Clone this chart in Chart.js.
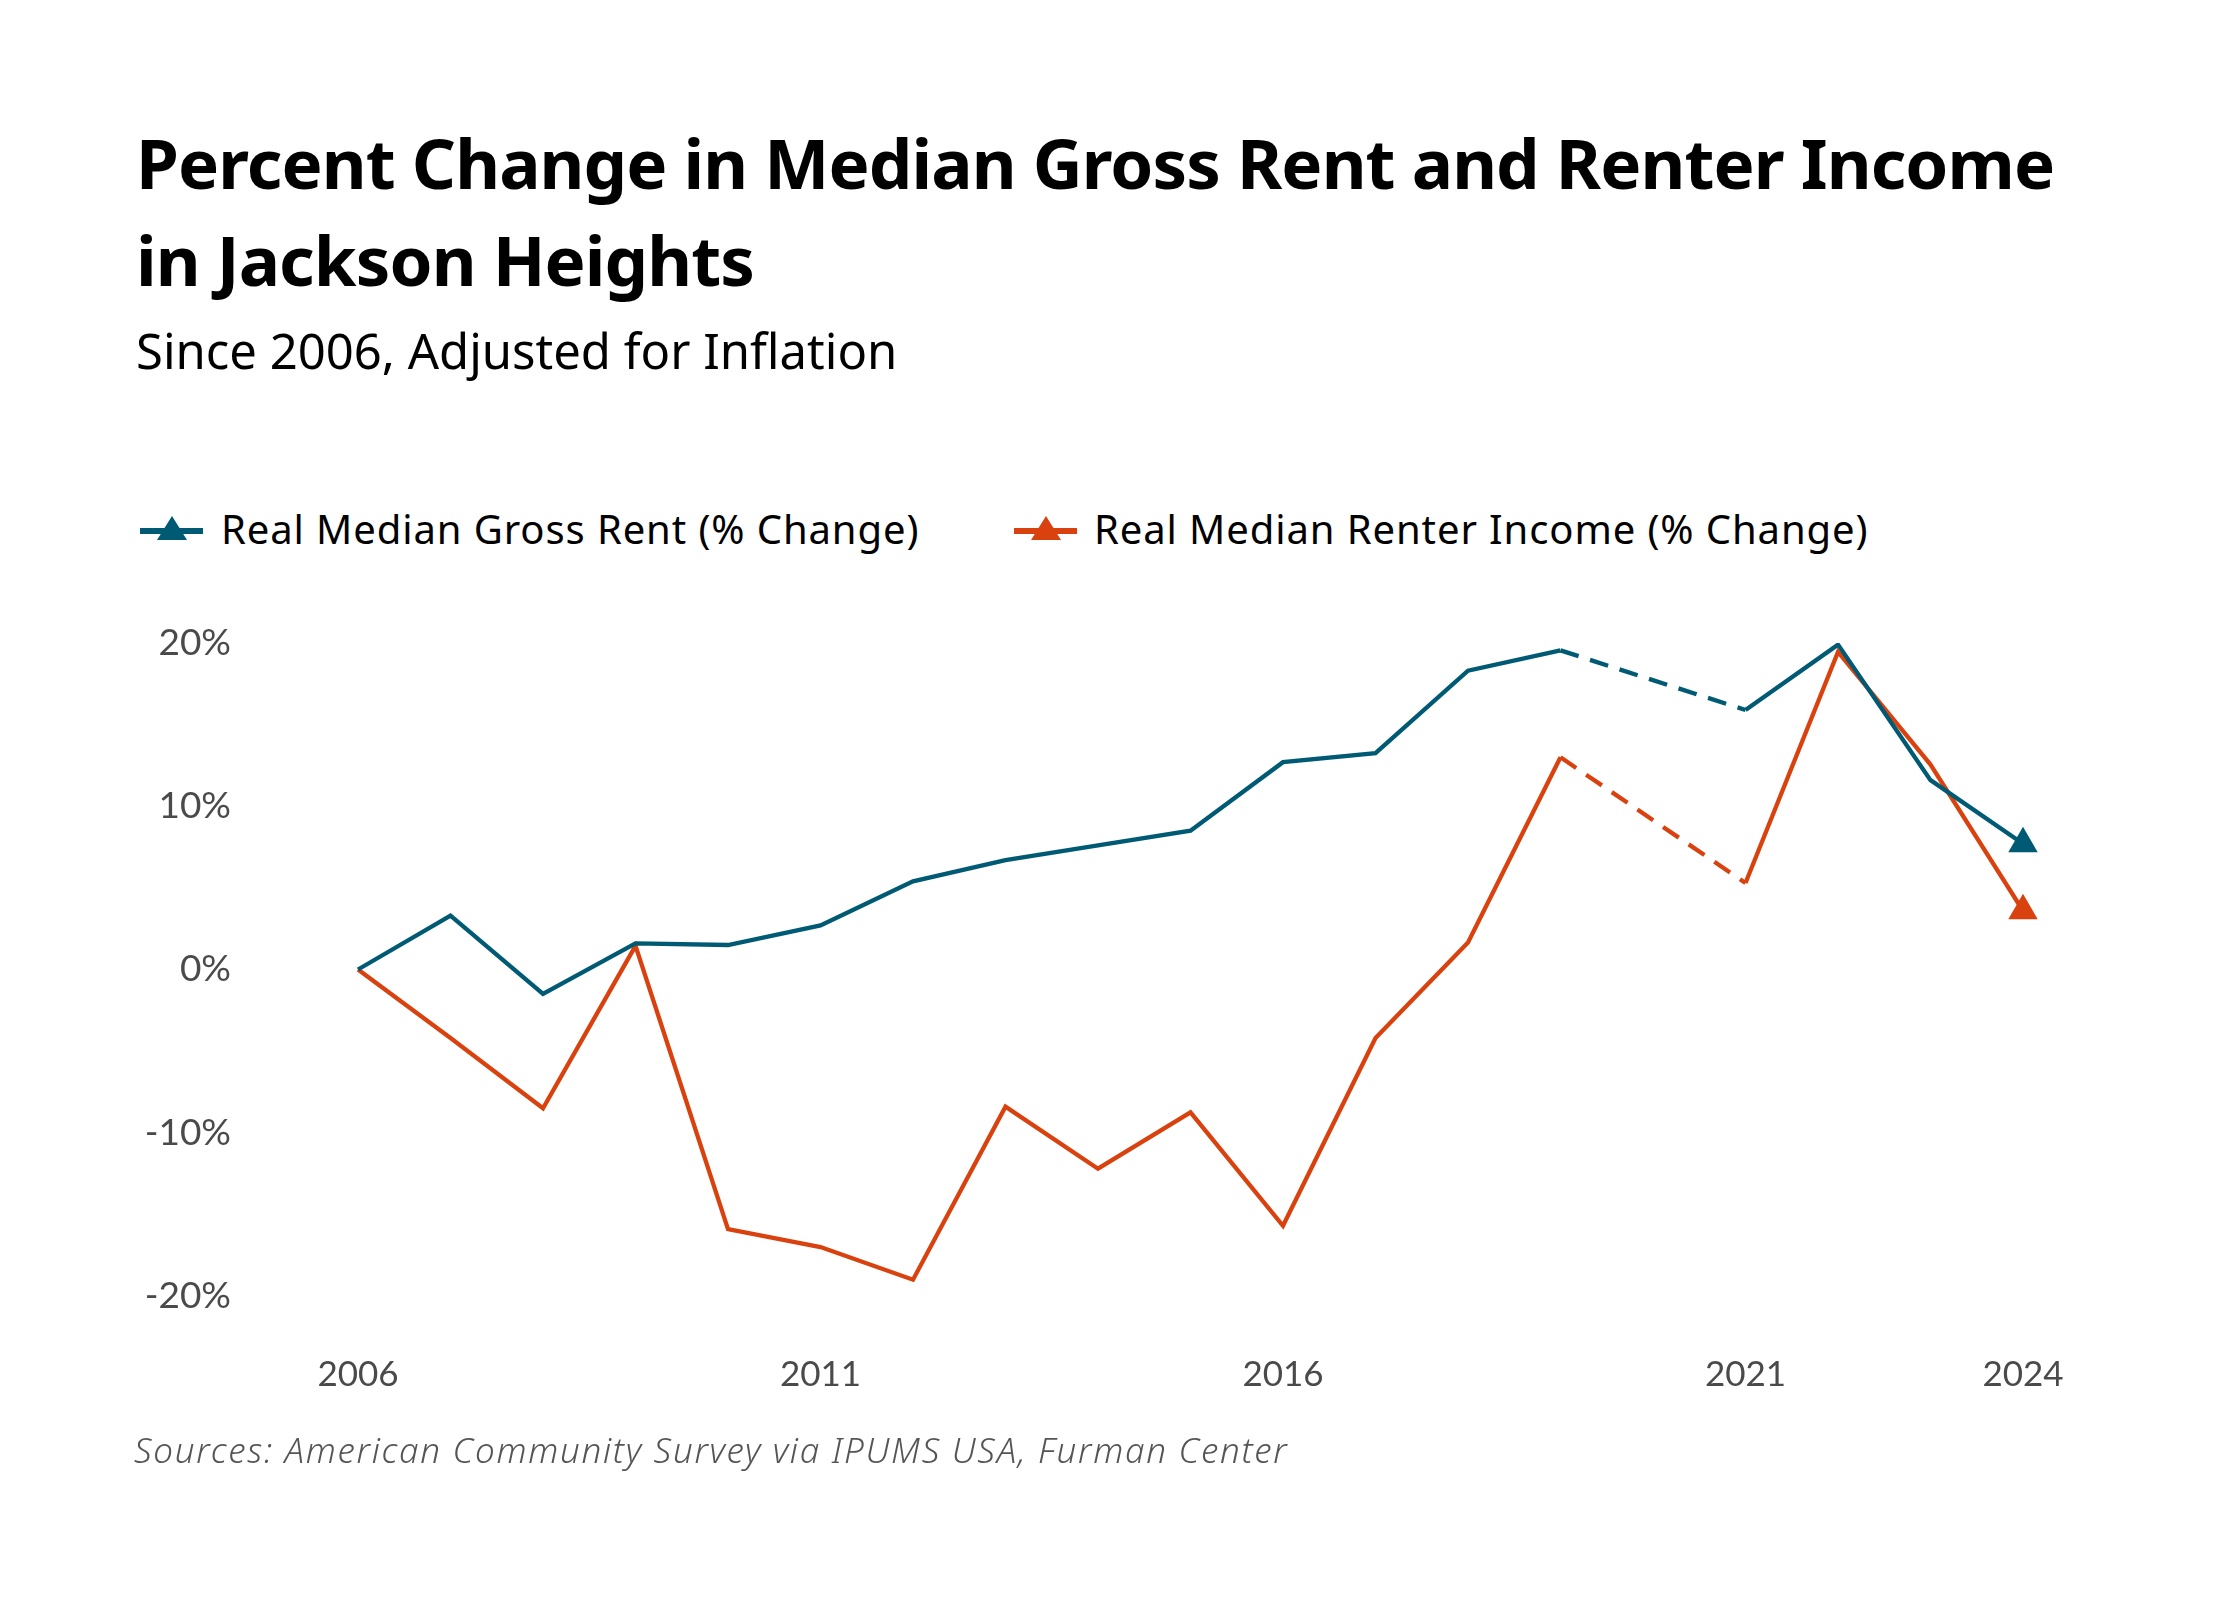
<!DOCTYPE html>
<html>
<head>
<meta charset="utf-8">
<script src="https://cdn.jsdelivr.net/npm/chart.js@4.4.1/dist/chart.umd.min.js"></script>
<style>
html,body{margin:0;padding:0;background:#fff;}
body{width:2240px;height:1600px;position:relative;overflow:hidden;font-family:"Noto Sans",sans-serif;}
.t{position:absolute;left:136px;white-space:nowrap;color:#000;margin:0;}
#title{top:114px;font-weight:700;font-size:69px;line-height:97px;letter-spacing:-0.9px;}
#sub{top:320px;font-size:49px;line-height:60px;}
.leg{position:absolute;top:504px;font-size:40px;line-height:50px;letter-spacing:0.9px;white-space:nowrap;color:#000;}
.mk{position:absolute;top:510px;}
#src{left:134px;top:1428px;font-style:italic;font-weight:300;font-size:35px;line-height:44px;letter-spacing:1.7px;color:#555;}
#wrap{position:absolute;left:0;top:600px;width:2240px;height:850px;}
</style>
</head>
<body>
<div id="title" class="t">Percent Change in Median Gross Rent and Renter Income<br>in Jackson Heights</div>
<div id="sub" class="t">Since 2006, Adjusted for Inflation</div>

<svg class="mk" style="left:140px" width="64" height="32"><line x1="0" y1="21" x2="63" y2="21" stroke="#005a73" stroke-width="6"/><polygon points="17,30 47,30 32,6" fill="#005a73"/></svg>
<div class="leg" style="left:221px">Real Median Gross Rent (% Change)</div>
<svg class="mk" style="left:1014px" width="64" height="32"><line x1="0" y1="21" x2="63" y2="21" stroke="#d9420f" stroke-width="6"/><polygon points="17,30 47,30 32,6" fill="#d9420f"/></svg>
<div class="leg" style="left:1094px">Real Median Renter Income (% Change)</div>

<div id="wrap"><canvas id="c"></canvas></div>
<div id="src" class="t">Sources: American Community Survey via IPUMS USA, Furman Center</div>

<script>
const years = ['2006','2007','2008','2009','2010','2011','2012','2013','2014','2015','2016','2017','2018','2019','2020','2021','2022','2023','2024'];
const rentChange = [0, 3.3, -1.5, 1.6, 1.5, 2.7, 5.4, 6.7, 7.6, 8.5, 12.7, 13.25, 18.3, 19.55, null, 15.9, 19.9, 11.6, 7.7];
const incomeChange = [0, -4.2, -8.5, 1.45, -15.9, -17.0, -19.0, -8.4, -12.2, -8.75, -15.7, -4.2, 1.65, 13.0, null, 5.3, 19.45, 12.55, 3.6];
const shownYears = ['2006','2011','2016','2021','2024'];
const yTickValues = [-20, -10, 0, 10, 20];

const BLUE = '#005a73';
const RED = '#d9420f';
const lastIndex = years.length - 1;
const allSeries = [rentChange, incomeChange];

function series(label, data, color) {
  return {
    label: label,
    data: data,
    borderColor: color,
    backgroundColor: color,
    borderWidth: 4.3,
    tension: 0,
    spanGaps: true,
    pointStyle: 'triangle',
    pointRadius: ctx => ctx.dataIndex === lastIndex ? 17 : 0,
    pointHoverRadius: ctx => ctx.dataIndex === lastIndex ? 17 : 0,
    pointBorderWidth: 0,
    segment: {
      borderDash: ctx => {
        const d = allSeries[ctx.datasetIndex];
        const gap = d[ctx.p0DataIndex] == null || d[ctx.p1DataIndex] == null || (ctx.p1DataIndex - ctx.p0DataIndex) > 1;
        return gap ? [19, 12] : undefined;
      }
    }
  };
}

new Chart(document.getElementById('c'), {
  type: 'line',
  data: {
    labels: years,
    datasets: [
      series('Real Median Gross Rent (% Change)', rentChange, BLUE),
      series('Real Median Renter Income (% Change)', incomeChange, RED)
    ]
  },
  options: {
    responsive: true,
    maintainAspectRatio: false,
    devicePixelRatio: 1,
    animation: false,
    layout: { padding: { left: 0, right: 217, top: 43, bottom: 0 } },
    plugins: { legend: { display: false }, tooltip: { enabled: false }, title: { display: false } },
    scales: {
      x: {
        type: 'category',
        offset: false,
        grid: { display: false, drawTicks: false },
        border: { display: false },
        afterFit: s => { s.height = 154; s.paddingLeft = 0; s.paddingRight = 0; },
        ticks: {
          autoSkip: false,
          maxRotation: 0,
          minRotation: 0,
          padding: 58,
          color: '#4a4a4a',
          font: { family: 'Lato', size: 35 },
          callback: function(v, i) { const l = this.getLabelForValue(v); return shownYears.includes(l) ? l : ''; }
        }
      },
      y: {
        min: -20,
        max: 20,
        grid: { display: false, drawTicks: false },
        border: { display: false },
        afterFit: s => { s.width = 358; s.paddingTop = 0; s.paddingBottom = 0; },
        afterBuildTicks: s => { s.ticks = yTickValues.map(v => ({ value: v })); },
        ticks: {
          padding: 127,
          color: '#4a4a4a',
          font: { family: 'Lato', size: 37 },
          callback: v => v + '%'
        }
      }
    }
  }
});
</script>
</body>
</html>
